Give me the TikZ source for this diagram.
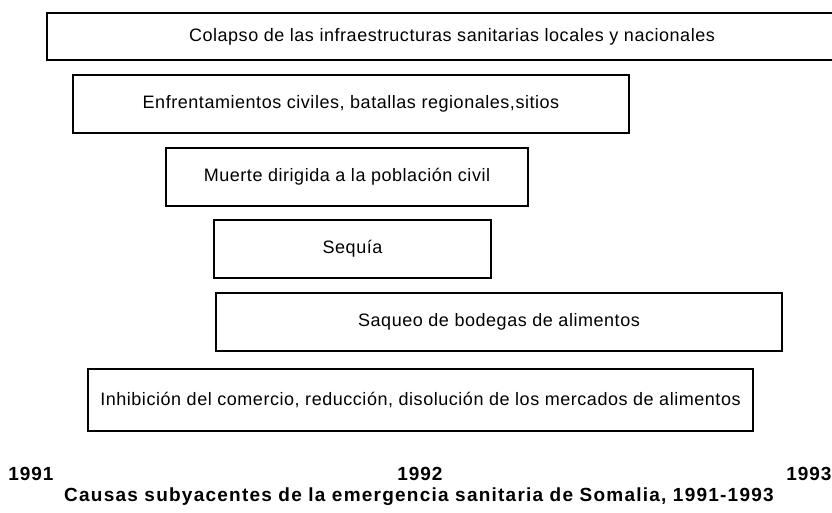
\documentclass[tikz,border=0pt]{standalone}
\usepackage{fontspec}
\setmainfont{Liberation Sans}
\newfontfamily\cajafont[LetterSpace=3]{Liberation Sans}
\newfontfamily\aniofont[LetterSpace=5]{Liberation Sans}
\newfontfamily\titulofont[LetterSpace=6.5]{Liberation Sans}
\usepackage{tikz}

\begin{document}
\begin{tikzpicture}[x=1pt,y=-1pt]
				\tikzstyle{causa}=[rectangle,draw=black,line width=1.2pt,inner sep=0pt,font=\cajafont\fontsize{18}{21}\selectfont]
				\tikzstyle{anio}=[inner sep=0pt,anchor=base,font=\aniofont\fontsize{19}{22}\selectfont\bfseries]
				\tikzstyle{titulo}=[inner sep=0pt,font=\titulofont\fontsize{19}{22}\selectfont\bfseries]
				\useasboundingbox (0,0) rectangle (832,513);
				\clip (0,0) rectangle (832,513);

				\node[causa,minimum width=810pt,minimum height=47pt](c1) at (452,36.5){Colapso de las infraestructuras sanitarias locales y nacionales};
				\node[causa,minimum width=556pt,minimum height=58pt](c2) at (351,104){Enfrentamientos civiles, batallas regionales,sitios};
				\node[causa,minimum width=362pt,minimum height=58pt](c3) at (347,177){Muerte dirigida a la población civil};
				\node[causa,minimum width=277pt,minimum height=58pt](c4) at (352.5,249){Sequía};
				\node[causa,minimum width=566pt,minimum height=58pt](c5) at (499,322){Saqueo de bodegas de alimentos};
				\node[causa,minimum width=665pt,minimum height=62pt](c6) at (420.5,400){Inhibición del comercio, reducción, disolución de los mercados de alimentos};

				\node[anio](a1) at (31,480){1991};
				\node[anio](a2) at (420,480){1992};
				\node[anio](a3) at (809,480){1993};
				\node[titulo](tit) at (419,497){Causas subyacentes de la emergencia sanitaria de Somalia, 1991-1993};
			\end{tikzpicture}
\end{document}
